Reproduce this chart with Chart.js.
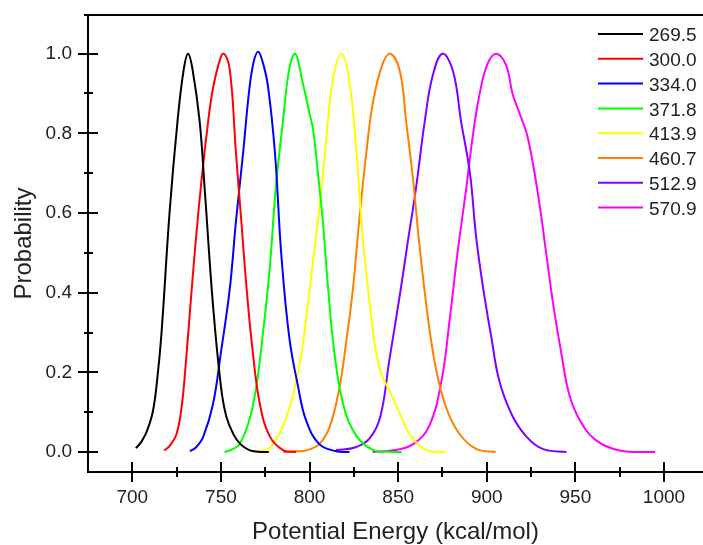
<!DOCTYPE html>
<html>
<head>
<meta charset="utf-8">
<script src="https://cdn.jsdelivr.net/npm/chart.js@4"></script>
<style>
  html, body { margin: 0; padding: 0; background: #fff; }
  #wrap { width: 703px; height: 545px; }
</style>
</head>
<body>
<div id="wrap"><canvas id="energyChart"></canvas></div>
<script>
const temps = ["269.5", "300.0", "334.0", "371.8", "413.9", "460.7", "512.9", "570.9"];
const colors = ["#000000", "#ff0000", "#0000ff", "#00ff00", "#ffff00", "#ff8000", "#8000ff", "#ff00ff"];

const xTicks = [700, 750, 800, 850, 900, 950, 1000];
const xMinor = [725, 775, 825, 875, 925, 975];
const yTicks = [0.0, 0.2, 0.4, 0.6, 0.8, 1.0];
const yMinor = [0.1, 0.3, 0.5, 0.7, 0.9];

// potential energy (kcal/mol) and normalised probability, one pair per temperature
const e269 = [702, 705, 708, 711.5, 714, 716.5, 721, 725.5, 729, 731.5, 734, 738, 741, 745.5, 750, 753, 757, 761, 766, 771, 777];
const p269 = [0.01, 0.025, 0.05, 0.10, 0.18, 0.30, 0.60, 0.83, 0.96, 1.0, 0.96, 0.83, 0.65, 0.37, 0.165, 0.09, 0.045, 0.02, 0.005, 0.001, 0];

const e300 = [718, 721, 725, 728, 730.5, 733, 736, 739, 742, 745, 748.5, 751.5, 755, 758.5, 761.5, 764.5, 768, 772, 777.5, 785, 792.5];
const p300 = [0.004, 0.015, 0.046, 0.12, 0.24, 0.38, 0.54, 0.68, 0.80, 0.90, 0.97, 1.0, 0.96, 0.75, 0.58, 0.41, 0.25, 0.12, 0.04, 0.005, 0];

const e334 = [732.5, 736, 740, 745.5, 750, 755, 758.5, 762.5, 766, 768.5, 771, 773.5, 776.5, 780.5, 784, 788.5, 793.5, 798, 805.5, 815, 822.5];
const p334 = [0.002, 0.012, 0.038, 0.12, 0.25, 0.41, 0.58, 0.75, 0.91, 0.98, 1.005, 0.98, 0.92, 0.75, 0.50, 0.29, 0.165, 0.08, 0.02, 0.002, 0];

const e371 = [752, 756, 760.5, 766, 770, 773.5, 777.5, 781, 785, 788.5, 792, 796, 800, 802, 804.5, 807.5, 810.5, 814, 819, 826.5, 836, 844, 852];
const p371 = [0, 0.006, 0.02, 0.08, 0.165, 0.29, 0.46, 0.665, 0.83, 0.96, 1.0, 0.93, 0.85, 0.81, 0.71, 0.58, 0.41, 0.25, 0.12, 0.04, 0.005, 0.001, 0];

const e413 = [768, 772, 777.5, 785, 790.5, 795.5, 799, 802, 806, 809.5, 813, 818, 822.5, 826.5, 830, 834, 837.5, 841, 845, 851, 857.5, 866, 877];
const p413 = [0, 0.003, 0.01, 0.065, 0.14, 0.25, 0.37, 0.48, 0.63, 0.79, 0.93, 1.0, 0.93, 0.75, 0.54, 0.37, 0.25, 0.19, 0.155, 0.096, 0.038, 0.005, 0];

const e460 = [785, 792, 798, 805.5, 811.5, 817, 820.5, 824.5, 828, 832, 835.5, 840.5, 845.5, 851, 854.5, 858.5, 862, 867, 871.5, 877, 884.5, 894, 905];
const p460 = [0, 0.002, 0.004, 0.02, 0.065, 0.165, 0.27, 0.41, 0.58, 0.75, 0.87, 0.965, 1.0, 0.955, 0.83, 0.68, 0.52, 0.33, 0.205, 0.113, 0.046, 0.008, 0];

const e512 = [815, 826, 834, 840, 845, 851.5, 855.5, 860, 865, 869.5, 875, 881, 885.5, 890.5, 894, 898, 902.5, 907, 914, 922.5, 931.5, 945];
const p512 = [0.005, 0.012, 0.035, 0.09, 0.23, 0.41, 0.53, 0.66, 0.83, 0.945, 1.0, 0.955, 0.83, 0.70, 0.54, 0.41, 0.29, 0.18, 0.095, 0.038, 0.008, 0];

const e570 = [835.5, 848, 858.5, 867.5, 874.5, 879, 883.5, 888.5, 892, 896, 900.5, 905.5, 911, 914.5, 918.5, 922.5, 926, 930, 933.5, 937.5, 942, 946.5, 952.5, 961.5, 975, 995];
const p570 = [0, 0.005, 0.02, 0.065, 0.18, 0.33, 0.50, 0.665, 0.79, 0.90, 0.975, 1.0, 0.97, 0.90, 0.85, 0.80, 0.725, 0.615, 0.50, 0.37, 0.25, 0.145, 0.08, 0.03, 0.004, 0];

const energies = [e269, e300, e334, e371, e413, e460, e512, e570];
const probs = [p269, p300, p334, p371, p413, p460, p512, p570];

const FONT = "'Liberation Sans', Arial, sans-serif";

// axes with ticks crossing the line, plus the top border
const frame = {
  id: 'frame',
  afterDraw(chart) {
    const { ctx, chartArea: a, scales: { x, y } } = chart;
    ctx.save();
    ctx.strokeStyle = '#000';
    ctx.lineWidth = 2;
    ctx.beginPath();
    ctx.moveTo(a.left - 4, a.top); ctx.lineTo(a.right + 2, a.top);
    ctx.moveTo(a.left, a.top - 1); ctx.lineTo(a.left, a.bottom + 1);
    ctx.moveTo(a.left - 1, a.bottom); ctx.lineTo(a.right + 2, a.bottom);
    xTicks.forEach(v => {
      const px = Math.round(x.getPixelForValue(v));
      ctx.moveTo(px, a.bottom - 10); ctx.lineTo(px, a.bottom + 10);
    });
    xMinor.forEach(v => {
      const px = Math.round(x.getPixelForValue(v));
      ctx.moveTo(px, a.bottom - 5); ctx.lineTo(px, a.bottom + 5);
    });
    yTicks.forEach(v => {
      const py = Math.round(y.getPixelForValue(v));
      ctx.moveTo(a.left - 10, py); ctx.lineTo(a.left + 10, py);
    });
    yMinor.forEach(v => {
      const py = Math.round(y.getPixelForValue(v));
      ctx.moveTo(a.left - 4, py); ctx.lineTo(a.left + 5, py);
    });
    ctx.stroke();
    ctx.restore();
  }
};

// legend in the top right corner
const keyBox = {
  id: 'keyBox',
  afterDraw(chart) {
    const ctx = chart.ctx;
    ctx.save();
    ctx.font = '19px ' + FONT;
    ctx.textBaseline = 'middle';
    ctx.textAlign = 'left';
    chart.data.datasets.forEach((ds, i) => {
      const yy = 35 + i * 24.8;
      ctx.strokeStyle = ds.borderColor;
      ctx.lineWidth = 2;
      ctx.beginPath();
      ctx.moveTo(598, yy - 1); ctx.lineTo(643, yy - 1);
      ctx.stroke();
      ctx.fillStyle = '#222';
      ctx.fillText(ds.label, 649, yy + 1);
    });
    ctx.restore();
  }
};

const datasets = temps.map((t, i) => ({
  label: t,
  data: energies[i].map((e, j) => ({ x: e, y: probs[i][j] })),
  borderColor: colors[i],
  borderWidth: 2,
  pointRadius: 0,
  fill: false,
  tension: 0.4
}));

new Chart(document.getElementById('energyChart'), {
  type: 'line',
  data: { datasets: datasets },
  options: {
    responsive: true,
    maintainAspectRatio: false,
    animation: false,
    layout: { padding: { top: 15, right: 0, left: 0, bottom: 0 } },
    plugins: { legend: { display: false }, tooltip: { enabled: false } },
    scales: {
      x: {
        type: 'linear',
        min: 675,
        max: 1022,
        grid: { display: false, drawTicks: false },
        border: { display: false },
        afterBuildTicks: s => { s.ticks = xTicks.map(v => ({ value: v })); },
        afterFit: s => { s.height = 73; s.paddingLeft = 0; s.paddingRight = 0; },
        ticks: { color: '#222', font: { family: FONT, size: 19 }, padding: 14, maxRotation: 0, callback: v => String(v) },
        title: {
          display: true,
          text: 'Potential Energy (kcal/mol)',
          color: '#222',
          font: { family: FONT, size: 24 },
          padding: { top: 0, bottom: -2 }
        }
      },
      y: {
        min: -0.05,
        max: 1.097,
        grid: { display: false, drawTicks: false },
        border: { display: false },
        afterBuildTicks: s => { s.ticks = yTicks.map(v => ({ value: v })); },
        afterFit: s => { s.width = 88; s.paddingTop = 0; s.paddingBottom = 0; },
        ticks: { color: '#222', font: { family: FONT, size: 19 }, padding: 16, callback: v => v.toFixed(1) },
        title: {
          display: true,
          text: 'Probability',
          color: '#222',
          font: { family: FONT, size: 24 },
          padding: { top: 10, bottom: 0 }
        }
      }
    }
  },
  plugins: [frame, keyBox]
});
</script>
</body>
</html>
